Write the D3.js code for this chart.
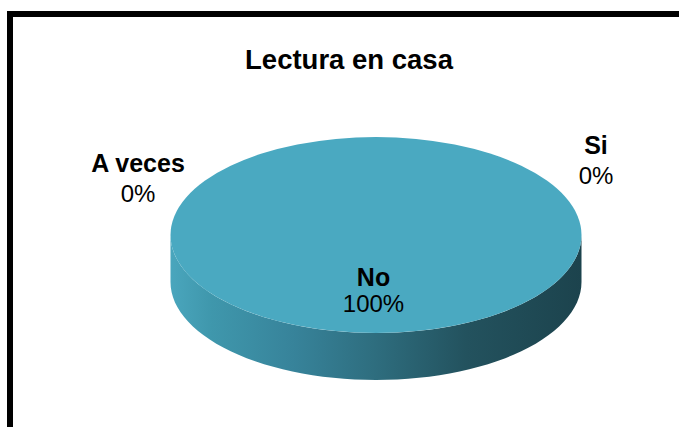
<!DOCTYPE html>
<html>
<head>
<meta charset="utf-8">
<style>
  body { margin: 0; background: #fff; }
  text { font-family: "Liberation Sans", Arial, sans-serif; fill: #000; }
</style>
</head>
<body>
<svg width="679" height="427"></svg>
<script src="https://cdn.jsdelivr.net/npm/d3@7"></script>
<script>

// data
var categories = ["Si", "No", "A veces"];
var values = [0, 100, 0];
var title = "Lectura en casa";

var svg = d3.select("svg"),
    cx = 376, cy = 235,     // centre of the top face
    rx = 205.5, ry = 98,    // ellipse radii
    depth = 47;             // thickness of the disc

// frame (only top/left edges show)
svg.append("rect")
    .attr("x", 10).attr("y", 14)
    .attr("width", 720).attr("height", 500)
    .attr("fill", "none")
    .attr("stroke", "#000")
    .attr("stroke-width", 6);

svg.append("text")
    .attr("x", 349).attr("y", 69)
    .attr("text-anchor", "middle")
    .style("font-size", "27.5px")
    .style("font-weight", "bold")
    .text(title);

var pie = d3.pie().sort(null).value(function(d) { return d.value; });
var slices = pie(categories.map(function(c, i) { return {name: c, value: values[i]}; }));
var total = d3.sum(values);

// side gradient (in the local coords of the pie group)
var defs = svg.append("defs");
var grad = defs.append("linearGradient")
    .attr("id", "side").attr("gradientUnits", "userSpaceOnUse")
    .attr("x1", -rx).attr("x2", rx).attr("y1", 0).attr("y2", 0);
[[0, "#4aa6bd"], [0.1, "#3f97ac"], [0.3, "#37839a"], [0.5, "#2e6d7e"], [0.72, "#23525e"], [1, "#1c434d"]]
  .forEach(function(s) { grad.append("stop").attr("offset", s[0]).attr("stop-color", s[1]); });

var g = svg.append("g").attr("transform", "translate(" + cx + "," + cy + ")");

// point on the ellipse for a d3 arc angle (0 = 12 o'clock, clockwise)
function pt(a, dy) {
  return [rx * Math.sin(a), -ry * Math.cos(a) + (dy || 0)];
}

// outer wall, only the front half (angles PI/2 .. 3PI/2)
function wall(d) {
  var a0 = Math.max(d.startAngle, Math.PI / 2),
      a1 = Math.min(d.endAngle, 3 * Math.PI / 2);
  if (a1 <= a0) return null;
  var n = 60, top = [], bot = [];
  for (var i = 0; i <= n; i++) {
    var a = a0 + (a1 - a0) * i / n;
    top.push(pt(a, 0));
    bot.push(pt(a, depth));
  }
  return "M" + top.map(String).join("L") + "L" + bot.reverse().map(String).join("L") + "Z";
}

g.selectAll(".wall")
  .data(slices.filter(function(d) { return d.value > 0; }))
  .enter().append("path")
    .attr("class", "wall")
    .attr("d", wall)
    .attr("fill", "url(#side)");

var arc = d3.arc().innerRadius(0).outerRadius(rx);
g.append("g")
    .attr("transform", "scale(1," + (ry / rx) + ")")
  .selectAll("path")
  .data(slices.filter(function(d) { return d.value > 0; }))
  .enter().append("path")
    .attr("d", arc)
    .attr("fill", "#4aa9c1");

// labels
var labelPos = {
  "No": [-2.5, 51],
  "Si": [220, -81],
  "A veces": [-238, -63]
};
var lab = svg.append("g").selectAll("g")
  .data(slices)
  .enter().append("g")
    .attr("transform", function(d) {
      var p = labelPos[d.data.name];
      return "translate(" + (cx + p[0]) + "," + (cy + p[1]) + ")";
    });
lab.append("text")
    .attr("text-anchor", "middle")
    .style("font-size", "25px")
    .style("font-weight", "bold")
    .text(function(d) { return d.data.name; });
lab.append("text")
    .attr("text-anchor", "middle")
    .attr("y", function(d) { return d.data.name == "No" ? 25.5 : 30; })
    .style("font-size", "24px")
    .text(function(d) { return d3.format(".0%")(d.value / total); });

</script>
</body>
</html>
